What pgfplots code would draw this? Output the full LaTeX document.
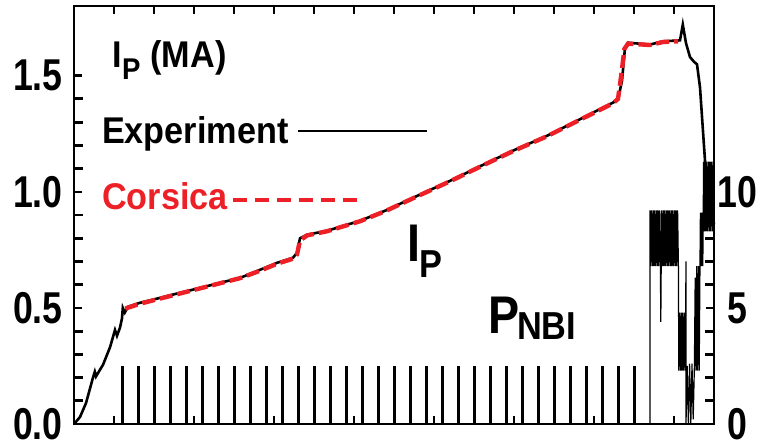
\documentclass[border=0pt]{standalone}
\usepackage{fontspec}
\usepackage{pgfplots}
\pgfplotsset{compat=1.18}
\setmainfont{Liberation Sans}
\newfontfamily\numfont{Liberation Sans}[FakeStretch=0.8]
\newfontfamily\labfont{Liberation Sans}[FakeStretch=0.92]
\newfontfamily\bigfont{Liberation Sans}[FakeStretch=0.88]
\definecolor{corsica}{RGB}{236,32,38}

\pgfplotsset{
  common/.style={
    scale only axis, width=320pt, height=209pt,
    xmin=0, xmax=16,
    axis line style={line width=1.4pt},
    tick align=inside,
    major tick length=4pt, minor tick length=4.5pt,
    every tick/.style={line width=1.2pt, black},
    every major tick/.style={line width=1.2pt, black},
    every minor tick/.style={line width=1.4pt, black},
    minor y tick num=4,
  },
}

\begin{document}
\begin{tikzpicture}
% plasma current, left axis (MA)
\begin{axis}[common,
  ymin=0, ymax=1.8,
  xtick={0,...,16}, xticklabels={},
  ytick={0,0.5,1,1.5}, yticklabels={0.0,0.5,1.0,1.5},
  xtick pos=both, ytick pos=left,
  yticklabel style={font=\numfont\bfseries\fontsize{22.3}{22}\selectfont, inner sep=0pt, xshift=-5.5pt},
  clip=false,
]
% measured current
\addplot[black, line width=1.3pt] coordinates {
(0,0) (0.15,0.03) (0.3,0.09) (0.475,0.20) (0.52,0.225) (0.55,0.205)
(0.725,0.255) (0.9,0.33) (1.025,0.405) (1.075,0.38) (1.15,0.415)
(1.2,0.455) (1.22,0.50) (1.27,0.48) (1.35,0.505) (1.65,0.522)
(2.15,0.543) (2.65,0.565) (3.15,0.586) (3.65,0.608) (4.15,0.629)
(4.65,0.664) (5.075,0.694) (5.475,0.716) (5.575,0.737) (5.65,0.80)
(5.825,0.815) (6.325,0.832) (6.825,0.858) (7.15,0.875) (7.8,0.92)
(8.475,0.974) (9.4,1.047) (10.225,1.116) (10.975,1.177) (11.825,1.241)
(12.475,1.297) (12.975,1.341) (13.475,1.384) (13.6,1.397) (13.7,1.478)
(13.775,1.621) (13.85,1.642) (14.4,1.634) (14.725,1.648) (15.15,1.652)
(15.22,1.72) (15.3,1.64) (15.4,1.58) (15.5,1.56) (15.575,1.549)
(15.65,1.45) (15.775,1.134) (15.85,1.0) (16,0.86)
};
% simulated current
\addplot[corsica, line width=2.2pt, dash pattern=on 6.5pt off 2.5pt] coordinates {
(1.28,0.497) (1.65,0.518) (2.15,0.540) (2.65,0.562) (3.15,0.584)
(3.65,0.606) (4.15,0.628) (4.65,0.660) (5.075,0.690) (5.475,0.712)
(5.575,0.730) (5.65,0.79) (5.825,0.812) (6.325,0.830) (6.825,0.856)
(7.15,0.873) (7.8,0.918) (8.475,0.972) (9.4,1.045) (10.225,1.114)
(10.975,1.175) (11.825,1.239) (12.475,1.295) (12.975,1.338) (13.475,1.381)
(13.6,1.40) (13.68,1.50) (13.76,1.615) (13.85,1.638) (14.4,1.632)
(14.725,1.645) (15.1,1.648)
};

% labels
\node[anchor=base west, inner sep=0pt, font=\labfont\bfseries\fontsize{18.6}{20}\selectfont]
  at (rel axis cs:0.0589,0.8517) {I};
\node[anchor=base west, inner sep=0pt, font=\labfont\bfseries\fontsize{15}{16}\selectfont]
  at (rel axis cs:0.0745,0.8237) {P};
\node[anchor=base west, inner sep=0pt, font=\labfont\bfseries\fontsize{18.6}{20}\selectfont]
  at (rel axis cs:0.1188,0.8517) {(MA)};

\node[anchor=base west, inner sep=0pt, font=\labfont\bfseries\fontsize{18.6}{20}\selectfont]
  at (rel axis cs:0.0433,0.6722) {Experiment};
\draw[black, line width=1.2pt] (rel axis cs:0.35,0.701) -- (rel axis cs:0.5516,0.701);

\node[anchor=base west, inner sep=0pt, text=corsica, font=\labfont\bfseries\fontsize{18.6}{20}\selectfont]
  at (rel axis cs:0.0433,0.5127) {Corsica};
\draw[corsica, line width=2pt, dash pattern=on 7pt off 4pt] (rel axis cs:0.2484,0.5366) -- (rel axis cs:0.4469,0.5366);

\node[anchor=base west, inner sep=0pt, font=\bigfont\bfseries\fontsize{26.5}{28}\selectfont]
  at (rel axis cs:0.5198,0.3892) {I};
\node[anchor=base west, inner sep=0pt, font=\bigfont\bfseries\fontsize{19.5}{20}\selectfont]
  at (rel axis cs:0.5391,0.3493) {P};
\node[anchor=base west, inner sep=0pt, font=\bigfont\bfseries\fontsize{26.5}{28}\selectfont]
  at (rel axis cs:0.6469,0.2177) {P};
\node[anchor=base west, inner sep=0pt, font=\bigfont\bfseries\fontsize{19.5}{20}\selectfont]
  at (rel axis cs:0.6917,0.2017) {NBI};
\end{axis}

% neutral beam power, right axis (MW)
\begin{axis}[common,
  ymin=0, ymax=18,
  axis x line=none, axis y line*=right,
  ytick={0,5,10}, yticklabels={0,5,10},
  yticklabel style={font=\numfont\bfseries\fontsize{22.3}{22}\selectfont, inner sep=0pt, anchor=center, xshift=11.5pt},
]
% beam blips
\addplot[black, line width=1.5pt, ycomb] coordinates {
(1.2,2.5) (1.6,2.5) (2.0,2.5) (2.4,2.5) (2.8,2.5) (3.2,2.5) (3.6,2.5)
(4.0,2.5) (4.4,2.5) (4.8,2.5) (5.2,2.5) (5.6,2.5) (6.0,2.5) (6.4,2.5)
(6.8,2.5) (7.2,2.5) (7.6,2.5) (8.0,2.5) (8.4,2.5) (8.8,2.5) (9.2,2.5)
(9.6,2.5) (10.0,2.5) (10.4,2.5) (10.8,2.5) (11.2,2.5) (11.6,2.5)
(12.0,2.5) (12.4,2.5) (12.8,2.5) (13.2,2.5) (13.6,2.5) (14.0,2.5)
};
% modulated heating at the end
\addplot[black, line width=0.6pt] coordinates {
(14.38,0) (14.40,0) (14.40,9.2) (14.42,6.8) (14.44,9.2) (14.46,6.8)
(14.48,9.2) (14.50,6.8) (14.52,9.2) (14.54,6.8) (14.56,9.2) (14.58,6.8)
(14.60,9.2) (14.62,6.8) (14.64,9.2) (14.66,6.8) (14.67,4.4) (14.68,6.8)
(14.69,9.2) (14.71,6.8) (14.73,9.2) (14.75,6.8) (14.77,9.2) (14.79,6.8)
(14.81,9.2) (14.83,6.8) (14.85,9.2) (14.87,6.8) (14.89,9.2) (14.91,6.8)
(14.93,9.2) (14.95,6.8) (14.97,9.2) (14.99,6.8) (15.01,9.2) (15.03,6.8)
(15.05,9.2) (15.07,6.8) (15.09,9.2) (15.11,6.8) (15.12,2.3) (15.14,4.8)
(15.16,2.3) (15.18,4.8) (15.20,2.3) (15.22,4.8) (15.24,2.3) (15.26,4.8)
(15.28,2.3) (15.30,7.0) (15.30,0) (15.33,2.5) (15.36,0) (15.39,2.6)
(15.42,0) (15.45,2.6) (15.48,0.2) (15.51,2.5) (15.53,6.3) (15.55,2.3)
(15.57,6.8) (15.59,2.3) (15.61,6.8) (15.63,2.3) (15.65,7.0) (15.66,9.1)
(15.68,6.8) (15.70,9.1) (15.72,6.8) (15.74,11.3) (15.76,8.3) (15.78,11.3)
(15.80,8.3) (15.82,11.3) (15.84,8.3) (15.86,11.3) (15.88,8.3) (15.90,11.3)
(15.92,8.3) (15.94,11.3) (15.96,8.3) (15.98,11.3) (16.0,9.0)
};
\end{axis}
\path (current axis.south west) ++(-37pt,-11pt);
\path (current axis.north east) ++(23.5pt,3pt);
\end{tikzpicture}
\end{document}
